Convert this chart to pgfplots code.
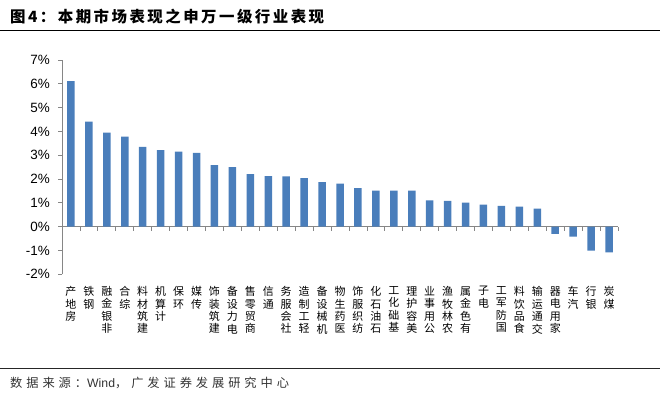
\documentclass[border=0pt]{standalone}
\usepackage{pgfplots}
\pgfplotsset{compat=1.18}
\usepackage{fontspec}
\setmainfont{Liberation Sans}
\newfontfamily\cjk{Noto Sans CJK SC}
\newfontfamily\cjktitle[LetterSpace=16]{Noto Sans CJK SC}
\newfontfamily\cjksrc[LetterSpace=32]{Noto Sans CJK SC}

\definecolor{barblue}{RGB}{74,126,187}
\definecolor{axgrey}{RGB}{134,134,134}

\begin{document}
\begin{tikzpicture}[x=1bp,y=1bp]
\path[use as bounding box] (0,0) rectangle (660,403);
% title and rules
\node[anchor=west, inner sep=0] at (10,386.5)
  {\cjktitle\bfseries\fontsize{15.5}{18}\selectfont 图4：本期市场表现之申万一级行业表现};
\draw[line width=1.2bp] (0,372.5) -- (660,372.5);
\draw[line width=1bp, black!85] (0,35) -- (660,35);
\node[anchor=west, inner sep=0, text=black!80] at (10,20)
  {\fontsize{12.3}{14}\selectfont{\cjksrc 数据来源：}Wind{\cjksrc ，广发证券发展研究中心}};

\begin{axis}[
  at={(70.97bp,176.3bp)}, anchor=origin,
  scale only axis, width=556bp, height=214.3bp,
  xmin=-0.5, xmax=30.5, ymin=-2, ymax=7,
  axis x line*=middle, axis y line*=left,
  axis line style={axgrey, line width=0.8bp},
  tick style={axgrey, line width=0.8bp},
  tick align=outside, major tick length=4bp,
  xtick={-0.4999,0.5,1.5,2.5,3.5,4.5,5.5,6.5,7.5,8.5,9.5,10.5,11.5,12.5,13.5,
    14.5,15.5,16.5,17.5,18.5,19.5,20.5,21.5,22.5,23.5,24.5,25.5,26.5,27.5,28.5,29.5,30.4999},
  x tick label as interval,
  xticklabels={
    {产\\地\\房},{铁\\钢},{融\\金\\银\\非},{合\\综},{料\\材\\筑\\建},
    {机\\算\\计},{保\\环},{媒\\传},{饰\\装\\筑\\建},{备\\设\\力\\电},
    {售\\零\\贸\\商},{信\\通},{务\\服\\会\\社},{造\\制\\工\\轻},{备\\设\\械\\机},
    {物\\生\\药\\医},{饰\\服\\织\\纺},{化\\石\\油\\石},{工\\化\\础\\基},{理\\护\\容\\美},
    {业\\事\\用\\公},{渔\\牧\\林\\农},{属\\金\\色\\有},{子\\电},{工\\军\\防\\国},
    {料\\饮\\品\\食},{输\\运\\通\\交},{器\\电\\用\\家},{车\\汽},{行\\银},{炭\\煤}},
  xticklabel style={anchor=north, align=center, inner sep=0pt, yshift=-55.5bp,
    font=\cjk\fontsize{11}{12.5}\selectfont},
  ytick={-2,-1,0,1,2,3,4,5,6,7},
  yticklabels={-2\%,-1\%,0\%,1\%,2\%,3\%,4\%,5\%,6\%,7\%},
  yticklabel style={inner sep=0pt, xshift=-8bp, font=\fontsize{13.5}{16}\selectfont},
  ybar, bar width=7.5bp,
]
\addplot[fill=barblue, draw=none] coordinates {
  (0,6.11) (1,4.41) (2,3.95) (3,3.78) (4,3.35) (5,3.22) (6,3.15) (7,3.10)
  (8,2.59) (9,2.50) (10,2.21) (11,2.12) (12,2.11) (13,2.04) (14,1.87)
  (15,1.81) (16,1.62) (17,1.52) (18,1.52) (19,1.52) (20,1.11) (21,1.08)
  (22,1.01) (23,0.93) (24,0.87) (25,0.84) (26,0.76) (27,-0.30) (28,-0.42)
  (29,-1.00) (30,-1.08)
};
\end{axis}
\end{tikzpicture}
\end{document}
